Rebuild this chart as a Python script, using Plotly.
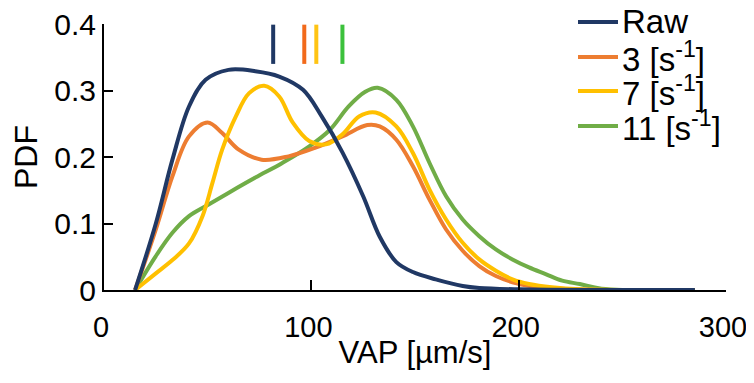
import plotly.graph_objects as go

# ---------------- data ----------------
series_names = ["Raw", "3 [s<sup>-1</sup>]", "7 [s<sup>-1</sup>]", "11 [s<sup>-1</sup>]"]

raw_x = [15, 25, 33, 41, 49, 60, 73, 84.5, 96, 105, 115, 125, 133, 141, 149, 160, 173, 181, 200, 240, 285]
raw_y = [0, 0.10, 0.196, 0.276, 0.316, 0.331, 0.329, 0.321, 0.301, 0.261, 0.207, 0.141, 0.080, 0.042, 0.027, 0.016, 0.006, 0.003, 0.001, 0, 0]

s3_x = [15, 25, 33, 41, 50, 57, 65, 76, 89, 102, 115, 127, 133, 141, 149, 157, 165, 173, 181, 189, 199, 210, 225, 285]
s3_y = [0, 0.091, 0.171, 0.231, 0.252, 0.236, 0.211, 0.196, 0.201, 0.214, 0.231, 0.248, 0.246, 0.226, 0.186, 0.136, 0.091, 0.059, 0.036, 0.021, 0.010, 0.004, 0.001, 0]

s7_x = [15, 25, 33, 41, 47.5, 52.3, 57, 63.6, 70, 77.3, 84.5, 91, 99, 107, 115, 123, 131, 141, 149, 157, 165, 173, 181, 189, 197, 205, 216, 230, 285]
s7_y = [0, 0.025, 0.045, 0.070, 0.111, 0.161, 0.211, 0.261, 0.296, 0.307, 0.291, 0.252, 0.224, 0.219, 0.234, 0.261, 0.267, 0.246, 0.206, 0.151, 0.106, 0.071, 0.046, 0.029, 0.016, 0.009, 0.004, 0.001, 0]

s11_x = [15, 25, 33, 41, 49, 60, 73, 86, 99, 109, 118, 126, 132, 141, 149, 157, 165, 173, 181, 189, 197, 205, 213, 221, 229.5, 240, 285]
s11_y = [0, 0.051, 0.086, 0.111, 0.126, 0.146, 0.169, 0.191, 0.216, 0.241, 0.276, 0.298, 0.304, 0.286, 0.246, 0.191, 0.141, 0.106, 0.081, 0.061, 0.046, 0.034, 0.024, 0.014, 0.009, 0.002, 0]

# mean markers (VAP) shown as short vertical bars at top
mean_vap = [81.6, 96.6, 102.4, 115.0]
mean_bar_y = [0.34, 0.399]

x_ticks = [0, 100, 200, 300]
y_ticks = [0, 0.1, 0.2, 0.3, 0.4]
y_tick_text = ["0", "0.1", "0.2", "0.3", "0.4"]

# ---------------- styles ----------------
line_colors = ["#203864", "#ED7D31", "#FFC000", "#70AD47"]
mean_colors = ["#1F3864", "#F26A1B", "#FFC414", "#3CC13C"]
FONT = "Liberation Sans, Arial, sans-serif"

# page has an 8px body margin: size the figure so it fits the 754x383 window
PAGE_OFF = 8
FIG_W, FIG_H = 754 - 2 * PAGE_OFF, 383 - 2 * PAGE_OFF
# plot-area edges in window pixels
PL, PR, PT, PB = 104, 726, 24, 290
L = PL - PAGE_OFF
T = PT - PAGE_OFF
R = FIG_W - (PR - PAGE_OFF)
B = FIG_H - (PB - PAGE_OFF)
W, H = FIG_W - L - R, FIG_H - T - B

fig = go.Figure()

curves = [(raw_x, raw_y), (s3_x, s3_y), (s7_x, s7_y), (s11_x, s11_y)]
order = [3, 1, 2, 0]
for i in order:
    xs, ys = curves[i]
    fig.add_trace(go.Scatter(
        x=xs, y=ys, mode="lines", name=series_names[i],
        line=dict(color=line_colors[i], width=4, shape="spline", smoothing=1.0),
        showlegend=False, hoverinfo="skip"))

for i, m in enumerate(mean_vap):
    fig.add_trace(go.Scatter(
        x=[m, m], y=mean_bar_y, mode="lines",
        line=dict(color=mean_colors[i], width=4),
        showlegend=False, hoverinfo="skip"))

def px2paper_x(px):
    return (px - PL) / W
def px2paper_y(py):
    return (PB - py) / H

# manual compact legend like the reference
legend_rows = [22, 57, 91, 126]
for i, name in enumerate(series_names):
    yy = px2paper_y(legend_rows[i])
    fig.add_shape(type="line", xref="paper", yref="paper",
                  x0=px2paper_x(578), x1=px2paper_x(618), y0=yy, y1=yy,
                  line=dict(color=line_colors[i], width=4))
    fig.add_annotation(xref="paper", yref="paper", x=px2paper_x(620), y=yy,
                       text=name, showarrow=False, xanchor="left", yanchor="middle",
                       font=dict(family=FONT, size=33, color="black"))

fig.update_layout(
    width=FIG_W, height=FIG_H,
    margin=dict(l=L, r=R, t=T, b=B, autoexpand=False),
    plot_bgcolor="white", paper_bgcolor="white",
    font=dict(family=FONT, size=30, color="black"),
    showlegend=False,
)
fig.update_xaxes(
    range=[0, 300], tickvals=x_ticks, ticks="inside", ticklen=10, tickwidth=2,
    tickcolor="black", showline=True, linecolor="black", linewidth=2,
    showgrid=False, zeroline=False, mirror=False, ticklabeloverflow="allow",
    automargin=False, ticklabelstandoff=10, ticklabelshift=-3,
    tickfont=dict(family=FONT, size=29),
    title=dict(text="VAP [µm/s]", font=dict(family=FONT, size=31), standoff=0),
)
fig.update_yaxes(
    range=[0, 0.4], tickvals=y_ticks, ticktext=y_tick_text, ticks="inside",
    ticklen=9, tickwidth=2, tickcolor="black", showline=True, linecolor="black",
    linewidth=2, showgrid=False, zeroline=False, mirror=False, ticklabeloverflow="allow",
    automargin=False,
    tickfont=dict(family=FONT, size=30),
    title=dict(text="PDF", font=dict(family=FONT, size=32), standoff=10),
)

fig.write_html("out.html")
